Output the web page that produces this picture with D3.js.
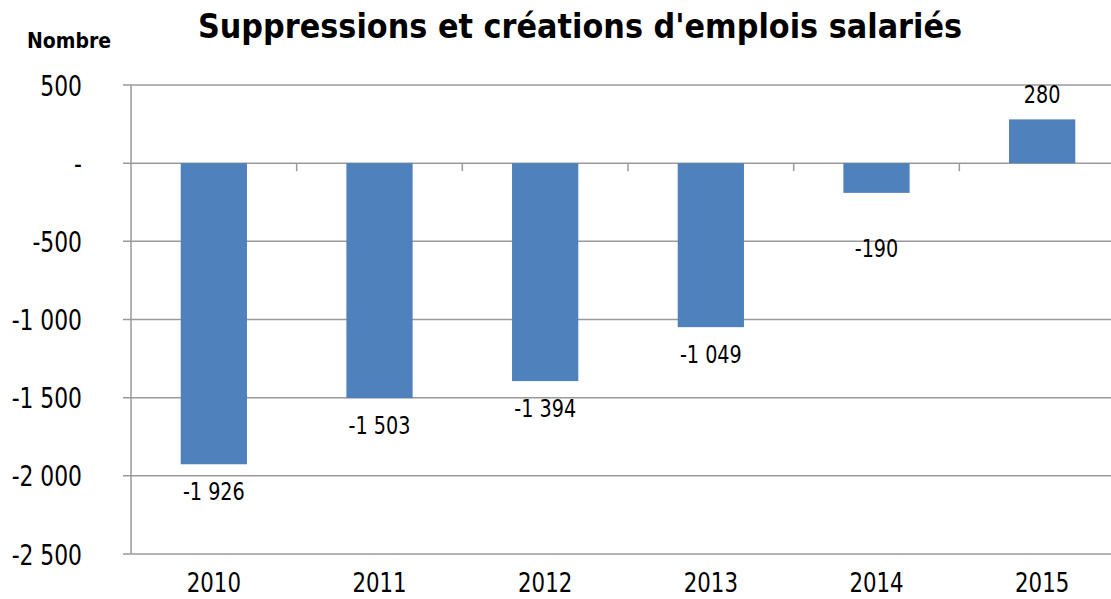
<!DOCTYPE html>
<html>
<head>
<meta charset="utf-8">
<script src="https://cdn.jsdelivr.net/npm/d3@7"></script>
<style>
    body { margin: 0; background: #fff; }
    svg { display: block; }
    text { font-family: "DejaVu Sans", sans-serif; fill: #000; }
    .plot-title { font-weight: bold; font-size: 33px; }
    .unit { font-weight: bold; font-size: 21px; }
    .tick-label { font-size: 28px; }
    .x-label { font-size: 26px; }
    .bar-label { font-size: 24px; }
</style>
</head>
<body>
<div id="barplot"></div>
<script>
// Define variables
// ============================================================================
const years = ["2010", "2011", "2012", "2013", "2014", "2015"],
    values = [-1926, -1503, -1394, -1049, -190, 280],
    yTicks = [500, 0, -500, -1000, -1500, -2000, -2500],
    yTickLabels = ["500", "-", "-500", "-1 000", "-1 500", "-2 000", "-2 500"];

const W = 1111, H = 599,
    margin = {top: 85, left: 131},
    plotRight = 1125,
    barColor = "#4F81BD",
    gridColor = "#9a9a9a";

// Helpers
// ============================================================================
function fmt(v) {
    // French style thousands separator
    const s = Math.abs(v).toString().replace(/\B(?=(\d{3})+(?!\d))/g, " ");
    return (v < 0 ? "-" : "") + s;
}

// narrow glyphs a bit, the source font is tighter than DejaVu
function place(x, y, k) {
    return "translate(" + x + "," + y + ") scale(" + k + ",1)";
}

// Plot
// ============================================================================
const svg = d3.select("#barplot")
    .append("svg")
        .attr("width", W)
        .attr("height", H);

const xScale = d3.scaleBand()
    .domain(years)
    .range([margin.left, plotRight])
    .paddingInner(0.6)
    .paddingOuter(0.3);

const yScale = d3.scaleLinear()
    .domain([-2500, 500])
    .range([554, margin.top]);

// Gridlines
svg.append("g")
    .selectAll("line")
    .data(yTicks)
    .join("line")
        .attr("x1", margin.left - 8)
        .attr("x2", W)
        .attr("y1", d => yScale(d))
        .attr("y2", d => yScale(d))
        .attr("stroke", gridColor)
        .attr("stroke-width", 1.5);

// Vertical axis line
svg.append("line")
    .attr("x1", margin.left)
    .attr("x2", margin.left)
    .attr("y1", yScale(500))
    .attr("y2", yScale(-2500))
    .attr("stroke", gridColor)
    .attr("stroke-width", 1.5);

// Category ticks on the zero line
const step = xScale.step();
svg.append("g")
    .selectAll("line")
    .data(years.slice(1))
    .join("line")
        .attr("x1", d => xScale(d) - xScale.paddingInner() * step / 2)
        .attr("x2", d => xScale(d) - xScale.paddingInner() * step / 2)
        .attr("y1", yScale(0))
        .attr("y2", yScale(0) + 8)
        .attr("stroke", gridColor)
        .attr("stroke-width", 1.5);

// Bars
svg.append("g")
    .selectAll("rect")
    .data(values)
    .join("rect")
        .attr("x", (d, i) => xScale(years[i]))
        .attr("width", xScale.bandwidth())
        .attr("y", d => yScale(Math.max(0, d)))
        .attr("height", d => Math.abs(yScale(d) - yScale(0)))
        .attr("fill", barColor);

// Bar labels
svg.append("g")
    .selectAll("text")
    .data(values)
    .join("text")
        .attr("class", "bar-label")
        .attr("text-anchor", "middle")
        .attr("transform", (d, i) => place(
            xScale(years[i]) + xScale.bandwidth() / 2,
            d >= 0 ? yScale(d) - 16.5
                   : Math.max(yScale(d) + 35.5, yScale(-500) + 15.5),
            0.8))
        .text(d => fmt(d));

// Y tick labels
svg.append("g")
    .selectAll("text")
    .data(yTicks)
    .join("text")
        .attr("class", "tick-label")
        .attr("text-anchor", "end")
        .attr("transform", d => place(82, yScale(d) + 10.5, 0.78))
        .text((d, i) => yTickLabels[i]);

// X labels
svg.append("g")
    .selectAll("text")
    .data(years)
    .join("text")
        .attr("class", "x-label")
        .attr("text-anchor", "middle")
        .attr("transform", d => place(xScale(d) + xScale.bandwidth() / 2, 592, 0.82))
        .text(d => d);

// Title and unit
svg.append("text")
    .attr("class", "plot-title")
    .attr("text-anchor", "middle")
    .attr("transform", place(580, 37.5, 0.92))
    .text("Suppressions et créations d'emplois salariés");

svg.append("text")
    .attr("class", "unit")
    .attr("text-anchor", "middle")
    .attr("transform", place(69, 48.3, 0.9))
    .text("Nombre");
</script>
</body>
</html>
